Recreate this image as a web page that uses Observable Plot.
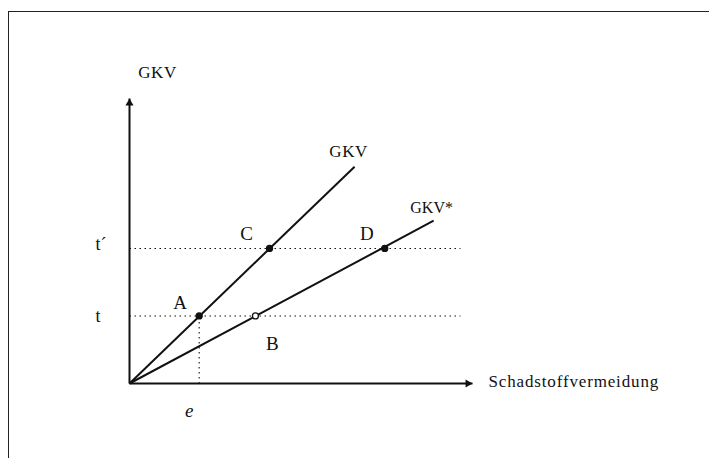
<!DOCTYPE html>
<html><head><meta charset="utf-8">
<script src="https://cdn.jsdelivr.net/npm/d3@7"></script>
<script src="https://cdn.jsdelivr.net/npm/@observablehq/plot@0.6"></script>
<style>
html,body{margin:0;padding:0;background:#fff;}
#wrap{position:relative;width:709px;height:458px;overflow:hidden;}
#chart{position:absolute;left:0;top:0;}
#frame{position:absolute;left:8px;top:11px;right:-4px;bottom:-4px;border-top:1.5px solid #222;border-left:1.5px solid #222;}
</style></head><body>
<div id="wrap"><div id="chart"></div><div id="frame"></div></div>
<script>
// ---- data ----
const xMax = 5.12;            // extent of the abatement axis
const yMax = 4.22;            // extent of the GKV axis
const xTitle = "Schadstoffvermeidung";
const yTitle = "GKV";
const levelNames = ["t", "t´"];
const levelValues = [1, 2];
const guideEnd = 4.94;
const eLabel = "e";
const lineNames = ["GKV", "GKV*"];
const lineEndX = [3.36, 4.54];
const lineEndY = [3.21, 2.41];
const pointNames = ["A", "B", "C", "D"];
const pointX = [1.04, 1.88, 2.09, 3.81];
const pointY = [1, 1, 2, 2];
const pointFilled = [true, false, true, true];

// ---- derived tables ----
const lines = lineNames.map((n, i) => ({name: n, x1: 0, y1: 0, x2: lineEndX[i], y2: lineEndY[i]}));
const points = pointNames.map((n, i) => ({name: n, x: pointX[i], y: pointY[i], filled: pointFilled[i]}));
const levels = levelNames.map((n, i) => ({name: n, v: levelValues[i]}));

const ink = "#111";
const serif = "'Liberation Serif', 'DejaVu Serif', serif";
const txt = {fontFamily: serif, fill: ink};

// label offsets (layout only)
const pointOff = {A: [-19, -13], B: [17, 28], C: [-23, -15], D: [-18, -15]};
const lineOff = {"GKV": [-6, -15], "GKV*": [-2, -13]};
const levelOff = {"t": [-29, 0], "t´": [-23, -4]};

const marks = [
  // dotted guides
  Plot.link(levels, {x1: 0, x2: guideEnd, y1: "v", y2: "v", stroke: ink, strokeWidth: 1.1, strokeDasharray: "1.5,3.5"}),
  Plot.link([points[0]], {x1: "x", x2: "x", y1: 0, y2: "y", stroke: ink, strokeWidth: 1.1, strokeDasharray: "1.5,3.5"}),
  // axes
  Plot.link([{x1: 0, y1: 0, x2: xMax, y2: 0}, {x1: 0, y1: 0, x2: 0, y2: yMax}], {x1: "x1", y1: "y1", x2: "x2", y2: "y2", stroke: ink, strokeWidth: 2}),
  Plot.dot([{x: 0, y: yMax}], {x: "x", y: "y", symbol: "triangle", r: 3, fill: ink, stroke: "none", dy: 4.6}),
  Plot.dot([{x: xMax, y: 0}], {x: "x", y: "y", symbol: "triangle", r: 3, fill: ink, stroke: "none", rotate: 90, dx: -4.6}),
  // cost lines
  Plot.link(lines, {x1: "x1", y1: "y1", x2: "x2", y2: "y2", stroke: ink, strokeWidth: 2}),
  // points
  Plot.dot(points, {x: "x", y: "y", r: 3, fill: d => d.filled ? ink : "#fff", stroke: ink, strokeWidth: 1.3}),
  // axis titles
  Plot.text([{x: 0, y: yMax}], {x: "x", y: "y", text: () => yTitle, dx: 28, dy: -26, fontSize: 17, ...txt}),
  Plot.text([{x: xMax, y: 0}], {x: "x", y: "y", text: () => xTitle, textAnchor: "start", dx: 16, dy: -2, fontSize: 17, ...txt}),
  Plot.text([points[0]], {x: "x", y: 0, text: () => eLabel, dx: -10, dy: 27, fontSize: 19, fontStyle: "italic", ...txt}),
  ...levels.map(l => Plot.text([l], {x: 0, y: "v", text: "name", textAnchor: "end", dx: levelOff[l.name][0], dy: levelOff[l.name][1], fontSize: 18, ...txt})),
  ...lines.map(l => Plot.text([l], {x: "x2", y: "y2", text: "name", dx: lineOff[l.name][0], dy: lineOff[l.name][1], fontSize: l.name === "GKV" ? 17 : 16, ...txt})),
  ...points.map(p => Plot.text([p], {x: "x", y: "y", text: "name", dx: pointOff[p.name][0], dy: pointOff[p.name][1], fontSize: 19, ...txt}))
];

const chart = Plot.plot({
  width: 709,
  height: 458,
  margin: 0,
  x: {domain: [0, xMax], range: [129, 472], axis: null},
  y: {domain: [0, yMax], range: [383, 98], axis: null},
  style: {background: "transparent", fontFamily: serif, color: ink},
  marks
});
// the scanned lettering runs a little wider than the font
d3.select(chart).selectAll("text")
  .filter(function () { return this.textContent === xTitle; })
  .attr("letter-spacing", "0.85px");
d3.select(chart).selectAll("text")
  .filter(function () { return this.textContent === yTitle; })
  .attr("letter-spacing", "0.6px");
document.getElementById("chart").appendChild(chart);
</script>
</body></html>
